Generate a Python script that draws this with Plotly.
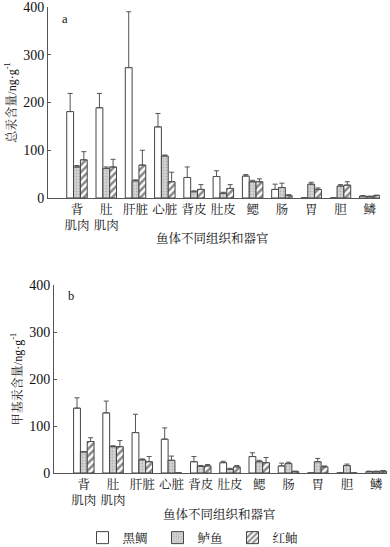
import plotly.graph_objects as go

categories = ["背<br>肌肉", "肚<br>肌肉", "肝脏", "心脏", "背皮", "肚皮", "鳃", "肠", "胃", "胆", "鳞"]
series_names = ["黑鲷", "鲈鱼", "红鲉"]

# Panel a: total mercury (ng/g)
a_black = [181, 189, 273, 149, 43, 45, 46, 18, 0, 0, 4]
a_black_err = [38, 30, 117, 28, 22, 12, 3, 11, None, None, 1]
a_perch = [65, 62, 36, 88, 13, 10, 34, 22, 29, 25, 3]
a_perch_err = [3, 3, 2, 2, 2, 2, 3, 9, 4, 3, 1]
a_rock = [80, 65, 69, 34, 18, 20, 34, 5, 18, 27, 5]
a_rock_err = [17, 16, 31, 20, 10, 8, 6, 2, 3, 7, 1]

# Panel b: methyl mercury (ng/g)
b_black = [138, 128, 86, 72, 24, 22, 35, 15, 0, 0, 3]
b_black_err = [22, 25, 39, 24, 11, 3, 8, 6, None, None, 1]
b_perch = [45, 56, 28, 27, 14, 8, 24, 20, 24, 16, 3]
b_perch_err = [None, 2, 2, 9, 2, 2, 3, 3, 7, 3, 1]
b_rock = [67, 56, 24, 0, 15, 13, 22, 3, 13, 0, 4]
b_rock_err = [8, 13, 11, None, 3, 3, 11, 1, 2, None, 1]

y_ticks = [0, 100, 200, 300, 400]

FONT = "Liberation Serif, Noto Serif CJK SC, Noto Sans CJK SC, serif"
W, H = 390, 547

styles = [
    dict(color="white", pattern=dict(shape="")),
    dict(color="#cfcfcf", pattern=dict(shape=".", fgcolor="#8a8a8a", bgcolor="#d6d6d6", size=3, solidity=0.3)),
    dict(color="white", pattern=dict(shape="/", fgcolor="#111111", bgcolor="white", size=5, solidity=0.5)),
]

fig = go.Figure()

def add_panel(vals, errs, xa, ya, showlegend):
    for i, (v, e) in enumerate(zip(vals, errs)):
        st = styles[i]
        fig.add_trace(go.Bar(
            x=categories, y=v, name=series_names[i],
            xaxis=xa, yaxis=ya, showlegend=showlegend, legendgroup=series_names[i],
            marker=dict(color=st["color"], pattern=st["pattern"],
                        line=dict(color="#444444", width=1)),
            error_y=dict(type="data", symmetric=False, array=e,
                         arrayminus=[0 if x is not None else None for x in e],
                         color="#555555", thickness=1, width=2.5),
        ))

add_panel([a_black, a_perch, a_rock], [a_black_err, a_perch_err, a_rock_err], "x", "y", True)
add_panel([b_black, b_perch, b_rock], [b_black_err, b_perch_err, b_rock_err], "x2", "y2", False)

def px_x(p):
    return p / W

def px_y(p):
    return 1 - p / H

axis_common = dict(showline=True, linecolor="#555555", linewidth=1, showgrid=False,
                   zeroline=False, automargin=False, ticklabeloverflow="allow")

def note(text, x, y):
    return dict(text=text, x=px_x(x), y=px_y(y), xref="paper", yref="paper",
                xanchor="center", yanchor="middle", showarrow=False, font=dict(size=12.5))

fig.update_layout(
    width=W, height=H,
    margin=dict(l=0, r=0, t=0, b=0, autoexpand=False),
    paper_bgcolor="white", plot_bgcolor="white",
    font=dict(family=FONT, size=12, color="#111111"),
    barmode="group", bargap=0.3, bargroupgap=0,
    xaxis=dict(domain=[px_x(48), px_x(380)], anchor="y", range=[-0.99, 10.35],
               ticks="", tickfont=dict(size=12.5), **axis_common),
    yaxis=dict(domain=[px_y(198), px_y(7)], anchor="x", range=[0, 400], tickvals=y_ticks,
               ticks="inside", ticklen=3, tickcolor="#555555", tickfont=dict(size=14),
               title=dict(text="总汞含量/ng·g<sup>-1</sup>", font=dict(size=12), standoff=4),
               **axis_common),
    xaxis2=dict(domain=[px_x(54), px_x(387)], anchor="y2", range=[-1.02, 10.37],
                ticks="", tickfont=dict(size=12.5), **axis_common),
    yaxis2=dict(domain=[px_y(473), px_y(285)], anchor="x2", range=[0, 400], tickvals=y_ticks,
                ticks="inside", ticklen=3, tickcolor="#555555", tickfont=dict(size=14),
                title=dict(text="甲基汞含量/ng·g<sup>-1</sup>", font=dict(size=12), standoff=4),
                **axis_common),
    legend=dict(orientation="h", x=0.5, xanchor="center", y=px_y(538), yanchor="middle",
                font=dict(size=12.5), itemwidth=30, entrywidth=30, entrywidthmode="pixels",
                traceorder="normal", bgcolor="rgba(0,0,0,0)"),
    annotations=[
        note("a", 65, 19),
        note("b", 71, 296),
        note("鱼体不同组织和器官", 213, 239),
        note("鱼体不同组织和器官", 219, 514),
    ],
)

fig.write_html("out.html", config={"displayModeBar": False},
               post_script="document.body.style.margin='0';document.body.style.overflow='hidden';")
